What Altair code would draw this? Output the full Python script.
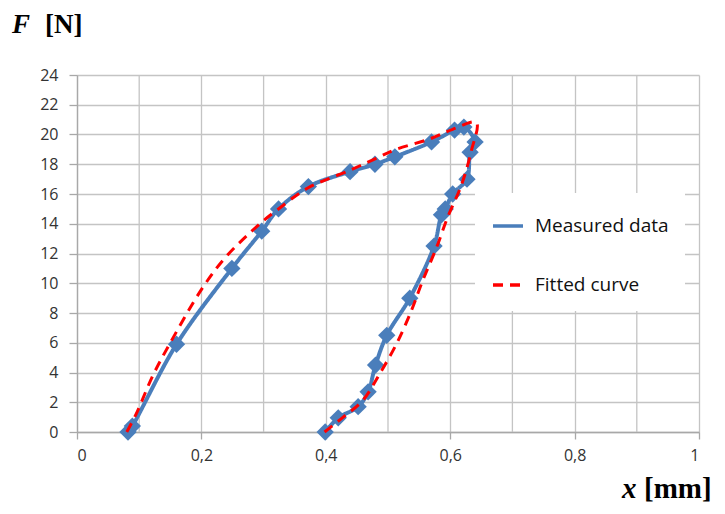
import altair as alt
import pandas as pd

meas_x = [0.082, 0.089, 0.160, 0.249, 0.297, 0.324, 0.372, 0.439, 0.479, 0.511, 0.570, 0.607, 0.622,
          0.640, 0.632, 0.627, 0.604, 0.592, 0.586, 0.574, 0.535, 0.498, 0.480, 0.468, 0.452, 0.420, 0.399]
meas_y = [0.0, 0.4, 5.9, 11.0, 13.5, 15.0, 16.5, 17.5, 18.0, 18.5, 19.5, 20.3, 20.5,
          19.5, 18.8, 17.0, 16.0, 15.0, 14.6, 12.5, 9.0, 6.5, 4.5, 2.7, 1.7, 0.95, 0.0]

# Fitted curve
fit_x = [0.080, 0.095, 0.122, 0.150, 0.202, 0.240, 0.294, 0.321, 0.371, 0.439, 0.481, 0.513, 0.567,
         0.604, 0.642, 0.634, 0.618, 0.596, 0.578, 0.556, 0.538, 0.514, 0.487, 0.460, 0.428, 0.398]
fit_y = [0.0, 1.2, 3.8, 6.0, 9.7, 11.8, 14.0, 14.9, 16.4, 17.6, 18.4, 19.0, 19.7,
         20.35, 20.8, 18.9, 16.6, 14.45, 12.4, 10.2, 8.2, 5.95, 3.94, 2.15, 1.0, 0.0]

series_names = ["Measured data", "Fitted curve"]
series_colors = ["#4A7EBB", "#FF0000"]
x_major = [0, 0.2, 0.4, 0.6, 0.8, 1.0]
x_minor = [0.1, 0.3, 0.5, 0.7, 0.9]
y_ticks = list(range(0, 25, 2))

meas = pd.DataFrame({"x": meas_x, "y": meas_y, "i": range(len(meas_x)), "s": series_names[0]})
fit = pd.DataFrame({"x": fit_x, "y": fit_y, "i": range(len(fit_x)), "s": series_names[1]})

GRID = "#c4c4c4"
xs = alt.Scale(domain=[0, 1], nice=False)
ys = alt.Scale(domain=[0, 24], nice=False)

color = alt.Color("s:N", scale=alt.Scale(domain=series_names, range=series_colors),
                  legend=alt.Legend(title=None, orient="none", legendX=398, legendY=118,
                                    fillColor="white", padding=16, rowPadding=32,
                                    symbolType="stroke", symbolSize=900, symbolStrokeWidth=3.5,
                                    labelFont="Open Sans", labelFontSize=19, labelColor="#111111",
                                    labelOffset=10, offset=0))
dash = alt.StrokeDash("s:N", scale=alt.Scale(domain=series_names, range=[[1, 0], [10, 7]]), legend=None)

xaxis = alt.Axis(values=x_major, title=None, grid=True, gridColor=GRID, gridWidth=1.3,
                 domainColor="#a8a8a8", domainWidth=1.3, tickColor="#a8a8a8", tickWidth=1.3,
                 tickSize=7, labelFont="Open Sans", labelFontSize=16, labelColor="#333333",
                 labelPadding=8, labelOverlap=False,
                 labelExpr="replace(format(datum.value, '~g'), '.', ',')")
yaxis = alt.Axis(values=y_ticks, title=None, grid=True, gridColor=GRID, gridWidth=1.3,
                 domainColor="#a8a8a8", domainWidth=1.3, tickColor="#a8a8a8", tickWidth=1.3,
                 tickSize=8, labelFont="Open Sans", labelFontSize=16, labelColor="#333333",
                 labelPadding=11, labelOverlap=False)

X = lambda f: alt.X(f, scale=xs, axis=xaxis)
Y = lambda f: alt.Y(f, scale=ys, axis=yaxis)

minor = alt.Chart(pd.DataFrame({"g": x_minor})).mark_rule(color=GRID, strokeWidth=1.3).encode(
    x=X("g:Q"))

blue_line = alt.Chart(meas).mark_line(strokeWidth=4, interpolate="catmull-rom").encode(
    x=X("x:Q"), y=Y("y:Q"), order="i:Q", color=color, strokeDash=dash)

blue_pts = alt.Chart(meas).mark_point(shape="diamond", filled=True, size=300, opacity=1,
                                      color="#4A7EBB").encode(x=X("x:Q"), y=Y("y:Q"))

red_line = alt.Chart(fit).mark_line(strokeWidth=3, interpolate="catmull-rom").encode(
    x=X("x:Q"), y=Y("y:Q"), order="i:Q", color=color, strokeDash=dash)

f_sym = ["F"]
f_unit = ["[N]"]
x_sym = ["x"]
x_unit = ["[mm]"]

def label(txt, px, py, italic, size):
    return alt.Chart(pd.DataFrame({"t": txt})).mark_text(
        font="Liberation Serif", fontSize=size, fontWeight="bold",
        fontStyle="italic" if italic else "normal", align="left", baseline="alphabetic",
        color="#000000").encode(x=alt.value(px), y=alt.value(py), text="t:N")

titles = (label(f_sym, -65, -42, True, 27) + label(f_unit, -32, -42, False, 27)
          + label(x_sym, 545, 423, True, 29) + label(x_unit, 567, 423, False, 29))

chart = alt.layer(minor, blue_line, blue_pts, red_line, titles).properties(
    width=622, height=357,
    autosize=alt.AutoSizeParams(type="none"),
    padding={"left": 69, "top": 67, "right": 18, "bottom": 74},
    background="white",
).configure_view(stroke=None)

chart.save("out.html", embed_options={"renderer": "svg", "actions": False})
